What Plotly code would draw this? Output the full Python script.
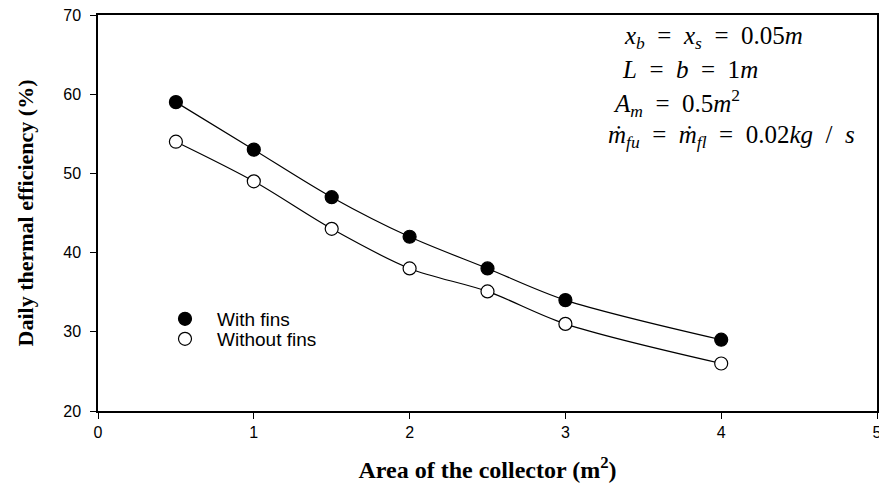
import plotly.graph_objects as go

area = [0.5, 1, 1.5, 2, 2.5, 3, 4]
with_fins = [59, 53, 47, 42, 38, 34, 29]
without_fins = [54, 49, 43, 38, 35.1, 31, 26]
x_ticks = [0, 1, 2, 3, 4, 5]
y_ticks = [20, 30, 40, 50, 60, 70]

fig = go.Figure()
series = [("With fins", with_fins, "black", "legend"), ("Without fins", without_fins, "white", "legend2")]
for name, ys, fill, lg in series:
    fig.add_trace(go.Scatter(
        x=area, y=ys, mode="lines", line=dict(color="black", width=1.2, shape="spline", smoothing=0.9),
        showlegend=False, hoverinfo="skip"))
    fig.add_trace(go.Scatter(
        x=area, y=ys, mode="markers", name=name, legend=lg,
        marker=dict(symbol="circle", size=13, color=fill, line=dict(color="black", width=1.2))))

leg_common = dict(xanchor="left", yanchor="middle", bgcolor="rgba(0,0,0,0)",
                  font=dict(size=19, family="Liberation Sans, Arial", color="black"), itemwidth=54)
fig.update_layout(
    width=879, height=483,
    margin=dict(l=98, r=2, t=15, b=72, autoexpand=False),
    paper_bgcolor="white", plot_bgcolor="white",
    font=dict(family="Liberation Sans, Arial", size=15, color="black"),
    legend=dict(x=(153 - 98) / 779, y=1 - (319 - 15) / 396, **leg_common),
    legend2=dict(x=(153 - 98) / 779, y=1 - (339 - 15) / 396, **leg_common),
    xaxis=dict(range=[0, 5], tickvals=x_ticks, ticks="outside", ticklen=6, tickwidth=1, tickcolor="black",
               showline=True, linecolor="black", linewidth=1.5, mirror=True, showgrid=False, zeroline=False,
               tickfont=dict(size=16), automargin=False, ticklabeloverflow="allow",
               title=dict(text="<b>Area of the collector (m<sup>2</sup>)</b>",
                          font=dict(family="Liberation Serif, Times New Roman", size=24), standoff=22)),
    yaxis=dict(range=[20, 70], tickvals=y_ticks, ticks="outside", ticklen=6, tickwidth=1, tickcolor="black",
               showline=True, linecolor="black", linewidth=1.5, mirror=True, showgrid=False, zeroline=False,
               tickfont=dict(size=16), automargin=False, ticklabelstandoff=6,
               title=dict(text="<b>Daily thermal efficiency (%)</b>",
                          font=dict(family="Liberation Serif, Times New Roman", size=22), standoff=24)),
)

s2 = "&nbsp;&nbsp;"
lines = [
    (f"<i>x<sub>b</sub></i>{s2}={s2}<i>x<sub>s</sub></i>{s2}={s2}0.05<i>m</i>", 713, 38),
    (f"<i>L</i>{s2}={s2}<i>b</i>{s2}={s2}1<i>m</i>", 690, 69),
    (f"<i>A<sub>m</sub></i>{s2}={s2}0.5<i>m</i><sup>2</sup>", 676, 103),
    (f"<i>ṁ<sub>fu</sub></i>{s2}={s2}<i>ṁ<sub>fl</sub></i>{s2}={s2}0.02<i>kg</i>{s2}/{s2}<i>s</i>", 731, 136),
]
for txt, xpx, ypx in lines:
    fig.add_annotation(text=txt, xref="paper", yref="paper", x=(xpx - 98) / 779, y=1 - (ypx - 15) / 396,
                       xanchor="center", yanchor="middle", showarrow=False,
                       font=dict(family="Liberation Serif, Times New Roman", size=25, color="black"))

fig.write_html("out.html", config={"displayModeBar": False},
               post_script="document.body.style.margin='0';document.body.style.overflow='hidden';")
